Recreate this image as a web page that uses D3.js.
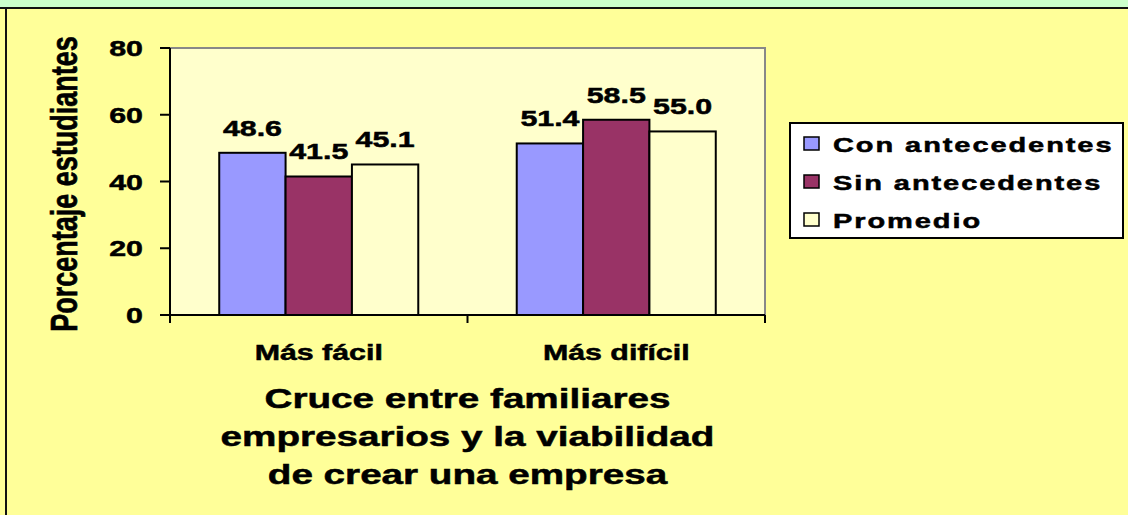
<!DOCTYPE html>
<html>
<head>
<meta charset="utf-8">
<script src="https://cdn.jsdelivr.net/npm/d3@7"></script>
<style>
  body { margin: 0; background: #ffff99; }
  svg { display: block; font-family: Arial, "Liberation Sans", sans-serif; font-weight: bold; }
  svg text { stroke: #000; stroke-width: 0.5px; }
</style>
</head>
<body>
<svg width="1128" height="515"></svg>
<script>
// chart data
var categories = ['Más fácil', 'Más difícil'];
var seriesNames = ['Con antecedentes', 'Sin antecedentes', 'Promedio'];
var conAntecedentes = [48.6, 51.4];
var sinAntecedentes = [41.5, 58.5];
var promedio = [45.1, 55.0];
var yTicks = [0, 20, 40, 60, 80];
var titleLines = ['Cruce entre familiares', 'empresarios y la viabilidad', 'de crear una empresa'];
var yTitle = 'Porcentaje estudiantes';

var colors = ['#9999ff', '#993366', '#ffffcc'];
var series = [conAntecedentes, sinAntecedentes, promedio];
var sx = 1.38; // the original picture is stretched sideways, so is its text

var svg = d3.select('svg');

// frame: green strip on top, black rules
svg.append('rect').attr('x', 0).attr('y', 0).attr('width', 1128).attr('height', 8).attr('fill', '#ccffcc');
svg.append('line').attr('x1', 0).attr('x2', 1128).attr('y1', 8).attr('y2', 8)
  .attr('stroke', '#111').attr('stroke-width', 2);
svg.append('line').attr('x1', 6).attr('x2', 6).attr('y1', 8).attr('y2', 515)
  .attr('stroke', '#111').attr('stroke-width', 2);

var plot = {left: 170, right: 765, top: 48, bottom: 315};

var x0 = d3.scaleBand().domain(categories).range([plot.left, plot.right])
  .paddingInner(0.331).paddingOuter(0.1655);
var x1 = d3.scaleBand().domain(d3.range(series.length)).range([0, x0.bandwidth()]);
var y = d3.scaleLinear().domain([0, 80]).range([plot.bottom, plot.top]);

// plot area
svg.append('rect')
  .attr('x', plot.left).attr('y', plot.top)
  .attr('width', plot.right - plot.left).attr('height', plot.bottom - plot.top)
  .attr('fill', '#ffffcc').attr('stroke', '#888').attr('stroke-width', 2);

// helper for stretched text
function stext(g, x, yy, txt, size, anchor) {
  return g.append('text')
    .attr('transform', 'translate(' + x + ',' + yy + ') scale(' + sx + ',1)')
    .attr('font-size', size)
    .attr('text-anchor', anchor || 'middle')
    .text(txt);
}

// bars
categories.forEach(function(c, ci) {
  var g = svg.append('g').attr('transform', 'translate(' + x0(c) + ',0)');
  series.forEach(function(s, si) {
    g.append('rect')
      .attr('x', x1(si)).attr('y', y(s[ci]))
      .attr('width', x1.bandwidth()).attr('height', y(0) - y(s[ci]))
      .attr('fill', colors[si]).attr('stroke', '#000').attr('stroke-width', 2);
    stext(g, x1(si) + x1.bandwidth() / 2, y(s[ci]) - 17, s[ci].toFixed(1), 22);
  });
});

// y axis
var yAxis = svg.append('g');
yAxis.append('line').attr('x1', plot.left).attr('x2', plot.left)
  .attr('y1', plot.top).attr('y2', plot.bottom).attr('stroke', '#000').attr('stroke-width', 2);
yTicks.forEach(function(t) {
  yAxis.append('line').attr('x1', plot.left - 10).attr('x2', plot.left)
    .attr('y1', y(t)).attr('y2', y(t)).attr('stroke', '#000').attr('stroke-width', 2);
  stext(yAxis, 143, y(t) + 8, t, 22, 'end');
});

// x axis
var xAxis = svg.append('g');
xAxis.append('line').attr('x1', plot.left).attr('x2', plot.right)
  .attr('y1', plot.bottom).attr('y2', plot.bottom).attr('stroke', '#000').attr('stroke-width', 2);
[plot.left, (plot.left + plot.right) / 2, plot.right].forEach(function(tx) {
  xAxis.append('line').attr('x1', tx).attr('x2', tx)
    .attr('y1', plot.bottom).attr('y2', plot.bottom + 8).attr('stroke', '#000').attr('stroke-width', 2);
});
categories.forEach(function(c) {
  stext(xAxis, x0(c) + x0.bandwidth() / 2, 360, c, 22);
});

// axis titles
titleLines.forEach(function(l, i) {
  stext(svg, (plot.left + plot.right) / 2, 408 + i * 38, l, 28);
});
svg.append('text')
  .attr('transform', 'translate(77,184) scale(' + sx + ',1) rotate(-90)')
  .attr('font-size', 27).attr('text-anchor', 'middle')
  .text(yTitle);

// legend
var legend = svg.append('g');
legend.append('rect').attr('x', 790).attr('y', 123).attr('width', 333).attr('height', 115)
  .attr('fill', '#fff').attr('stroke', '#000').attr('stroke-width', 2);
seriesNames.forEach(function(n, i) {
  var cy = 143.5 + i * 38;
  legend.append('rect').attr('x', 804).attr('y', cy - 6.5).attr('width', 15).attr('height', 13)
    .attr('fill', colors[i]).attr('stroke', '#000').attr('stroke-width', 1.5);
  stext(legend, 833, cy + 8, n, 21, 'start').attr('letter-spacing', 1.4);
});
</script>
</body>
</html>
